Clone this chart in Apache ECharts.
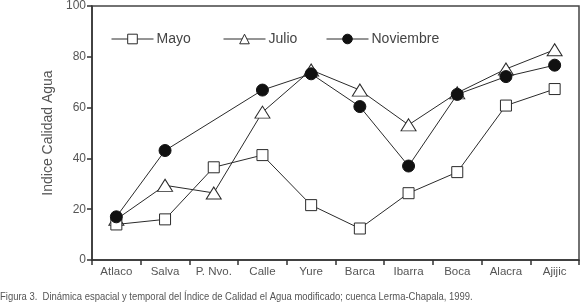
<!DOCTYPE html>
<html>
<head>
<meta charset="utf-8">
<script src="https://cdn.jsdelivr.net/npm/echarts@6/dist/echarts.min.js"></script>
<style>
  html, body { margin: 0; padding: 0; background: #fff; }
  #chart { width: 580px; height: 305px; }
</style>
</head>
<body>
<div id="chart"></div>
<script>
const categories = ["Atlaco", "Salva", "P. Nvo.", "Calle", "Yure", "Barca", "Ibarra", "Boca", "Alacra", "Ajijic"];
const mayo = [14, 16, 36.5, 41.3, 21.6, 12.4, 26.3, 34.6, 60.8, 67.3];
const julio = [16, 29.4, 26.4, 58.2, 74.8, 66.9, 53.2, 65.8, 75.2, 82.8];
const noviembre = [17, 43.1, null, 66.9, 73.3, 60.4, 37, 65.2, 72.2, 76.7];
const yTicks = [0, 20, 40, 60, 80, 100];

const FONT = "'Liberation Sans', Arial, sans-serif";
const INK = "#2a2a2a";
const TXT = "#555";

const chart = echarts.init(document.getElementById("chart"));

function mkLegend(name, left) {
  return {
    data: [name],
    left: left,
    top: 27,
    itemWidth: 42,
    itemHeight: 12,
    itemGap: 0,
    itemStyle: { borderWidth: 1 },
    lineStyle: { width: 1 },
    textStyle: { fontFamily: FONT, fontSize: 14, color: "#444", padding: [0, 0, 0, -2] }
  };
}

const lineStyle = { color: INK, width: 1 };

chart.setOption({
  animation: false,
  textStyle: { fontFamily: FONT },
  legend: [mkLegend("Mayo", 106), mkLegend("Julio", 218), mkLegend("Noviembre", 321)],
  grid: {
    left: 92,
    right: 1,
    top: 5,
    bottom: 45,
    show: true,
    borderColor: "#444",
    borderWidth: 1.5,
    backgroundColor: "transparent"
  },
  xAxis: {
    type: "category",
    data: categories,
    boundaryGap: true,
    axisLine: { lineStyle: { color: "#333", width: 1.5 } },
    axisTick: { show: true, length: 5, lineStyle: { color: "#333", width: 1.5 } },
    axisLabel: { fontFamily: FONT, fontSize: 11.5, color: TXT, margin: 6, interval: 0 },
    splitLine: { show: false }
  },
  yAxis: {
    type: "value",
    min: yTicks[0],
    max: yTicks[yTicks.length - 1],
    interval: 20,
    name: "Indice Calidad Agua",
    nameLocation: "middle",
    nameGap: 32,
    nameTextStyle: { fontFamily: FONT, fontSize: 14, color: TXT },
    axisLine: { show: true, lineStyle: { color: "#333", width: 1.5 } },
    axisTick: { show: true, length: 5, lineStyle: { color: "#333", width: 1.5 } },
    axisLabel: { fontFamily: FONT, fontSize: 12, color: TXT, margin: 6 },
    splitLine: { show: false }
  },
  series: [
    {
      name: "Mayo",
      type: "line",
      data: mayo,
      symbol: "rect",
      symbolSize: 11,
      lineStyle: lineStyle,
      itemStyle: { color: "#fff", borderColor: INK, borderWidth: 1 },
      z: 3
    },
    {
      name: "Julio",
      type: "line",
      data: julio,
      symbol: "triangle",
      symbolSize: [15, 12],
      lineStyle: lineStyle,
      itemStyle: { color: "#fff", borderColor: INK, borderWidth: 1 },
      z: 2
    },
    {
      name: "Noviembre",
      type: "line",
      data: noviembre,
      connectNulls: true,
      symbol: "circle",
      symbolSize: 12,
      lineStyle: lineStyle,
      itemStyle: { color: "#111", borderColor: "#111", borderWidth: 1 },
      z: 4
    }
  ],
  graphic: [
    {
      type: "text",
      x: 0,
      y: 291,
      scaleX: 0.86,
      style: {
        text: "Figura 3.  Dinámica espacial y temporal del Índice de Calidad el Agua modificado; cuenca Lerma-Chapala, 1999.",
        font: "11px " + FONT,
        fill: "#555"
      }
    }
  ]
});
</script>
</body>
</html>
